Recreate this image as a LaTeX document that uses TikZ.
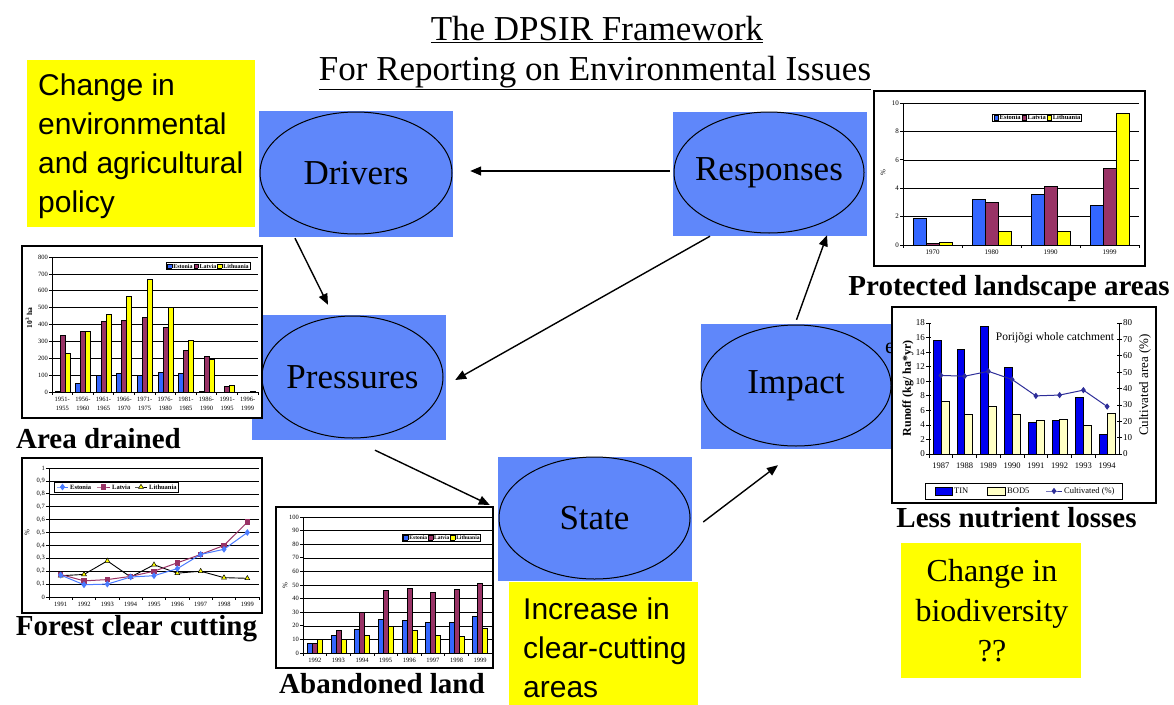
\documentclass[tikz,border=0pt]{standalone}
\usepackage{fontspec}
\setmainfont{Liberation Serif}
\setsansfont{Liberation Sans}
\usepackage{tikz}
\usetikzlibrary{arrows.meta, positioning, shapes.geometric, plotmarks}
\definecolor{dpsirblue}{HTML}{5F87FA}
\definecolor{notey}{HTML}{FFFF00}
\definecolor{estblue}{HTML}{3366FF}
\definecolor{latred}{HTML}{993366}
\definecolor{lityel}{HTML}{FFFF00}
\definecolor{estline}{HTML}{4A7BFF}
\definecolor{tinblue}{HTML}{0000F0}
\definecolor{bodyel}{HTML}{FFFFC4}
\definecolor{cultnavy}{HTML}{2E2E99}

\newcommand{\legsq}[1]{{\setlength{\fboxsep}{0pt}\setlength{\fboxrule}{0.4pt}\fcolorbox{black}{#1}{\rule{0pt}{4pt}\hspace{4pt}}}\hspace{1.2pt}}

\begin{document}
\begin{tikzpicture}[x=1pt, y=-1pt,
    panel/.style={rectangle, fill=dpsirblue, inner sep=0pt},
    stage/.style={ellipse, draw, line width=1pt, inner sep=0pt, font=\fontsize{35}{40}\selectfont},
    flow/.style={-{Triangle[length=11pt, width=9pt]}, line width=1.4pt},
    notebox/.style={rectangle, fill=notey, inner sep=0pt},
    notetext/.style={font=\sffamily\fontsize{30}{39}\selectfont, align=left, inner sep=0pt},
    titletext/.style={font=\fontsize{35}{40}\selectfont, anchor=base, inner sep=0pt},
    chartframe/.style={rectangle, draw, fill=white, line width=1.3pt, inner sep=0pt},
    charttitle/.style={font=\bfseries\fontsize{29}{34}\selectfont, anchor=base, inner sep=0pt},
    gridln/.style={line width=0.6pt},
    axisln/.style={line width=0.7pt},
    tick/.style={font=\fontsize{#1}{#1}\selectfont, inner sep=1pt},
    tick/.default=7,
    legbox/.style={draw, fill=white, line width=0.5pt, inner sep=1.2pt, font=\bfseries\fontsize{#1}{#1}\selectfont},
    legtext/.style={font=\bfseries\fontsize{6.5}{7}\selectfont, inner sep=0pt, anchor=west},
    estbar/.style={draw, line width=0.4pt, fill=estblue},
    latbar/.style={draw, line width=0.4pt, fill=latred},
    litbar/.style={draw, line width=0.4pt, fill=lityel},
    tinbar/.style={draw, line width=0.4pt, fill=tinblue},
    bodbar/.style={draw, line width=0.4pt, fill=bodyel},
    estln/.style={draw=estline, line width=1pt, mark=diamond*, mark size=2.6pt, mark options={fill=estline, draw=estline}},
    latln/.style={draw=latred, line width=1pt, mark=square*, mark size=2.2pt, mark options={fill=latred, draw=latred}},
    litln/.style={draw=black, line width=0.9pt, mark=triangle*, mark size=2.8pt, mark options={fill=lityel, draw=black, line width=0.5pt}},
    cultln/.style={draw=cultnavy, line width=1pt, mark=diamond*, mark size=2.4pt, mark options={fill=cultnavy, draw=cultnavy}},
]
\useasboundingbox (0,0) rectangle (1174,704);
\fill[white] (0,0) rectangle (1174,704);

% Title
\node[titletext] (title1) at (597,40) {\underline{The DPSIR Framework}};
\node[titletext] (title2) at (595,80) {\underline{For Reporting on Environmental Issues}};

% Yellow notes
\node[notebox, minimum width=228pt, minimum height=167pt] (policybox) at (141,143.5) {};
\node[notetext, anchor=west] (policy) at (38,146) {Change in\\environmental\\and agricultural\\policy};
\node[notebox, minimum width=189pt, minimum height=124pt] (cutbox) at (603.5,644) {};
\node[notetext, anchor=west] (cutting) at (523,648) {Increase in\\clear-cutting\\areas};
\node[notebox, minimum width=180pt, minimum height=135pt] (biobox) at (991,610.5) {};
\node[font=\fontsize{32}{40}\selectfont, align=center, inner sep=0pt] (biodiv) at (992,611) {Change in\\biodiversity\\??};

% DPSIR panels
\node[panel, minimum width=194pt, minimum height=126pt] (drvbox) at (356,174) {};
\node[stage, minimum width=192pt, minimum height=122pt] (drv) at (356,173) {\makebox[0pt]{Drivers}};
\node[panel, minimum width=194pt, minimum height=124pt] (respbox) at (770,174) {};
\node[stage, minimum width=190pt, minimum height=121pt] (resp) at (769,172.5) {\makebox[0pt]{Responses}};
\node[panel, minimum width=194pt, minimum height=125pt] (prsbox) at (349,377.5) {};
\node[stage, minimum width=181pt, minimum height=122pt] (prs) at (352.5,377) {\makebox[0pt]{Pressures}};
\node[panel, minimum width=191pt, minimum height=125pt] (impbox) at (796.5,386.5) {};
\node[stage, minimum width=190pt, minimum height=121pt] (imp) at (796,385.5) {\makebox[0pt]{Impact}};
\node[font=\fontsize{22}{24}\selectfont, anchor=base west, inner sep=0pt] (impe) at (885,353) {e};
\node[panel, minimum width=194pt, minimum height=124pt] (statebox) at (595,519) {};
\node[stage, minimum width=191pt, minimum height=122pt] (state) at (594.5,518) {\makebox[0pt]{State}};

% Arrows
\draw[flow] ([xshift=-3pt,yshift=3pt]respbox.west) -- ([xshift=17pt,yshift=3pt]drvbox.east);
\draw[flow] ([xshift=-61pt,yshift=-1pt]drvbox.south) -- ([xshift=-21pt,yshift=10pt]prsbox.north);
\draw[flow] ([xshift=-60pt]respbox.south) -- ([xshift=9pt,yshift=-2.5pt]prsbox.east);
\draw[flow] ([xshift=26pt,yshift=-10pt]prsbox.south) -- ([xshift=-8pt,yshift=14pt]statebox.west);
\draw[flow] ([xshift=11pt,yshift=-3pt]statebox.east) -- ([xshift=-18.5pt,yshift=-16pt]impbox.south);
\draw[flow] ([yshift=4pt]impbox.north) -- ([xshift=57pt,yshift=1pt]respbox.south);

% Protected landscape areas
\node[chartframe, minimum width=271pt, minimum height=175pt] (protframe) at (1009.5,178.5) {};
\begin{scope}[shift={(903,245)}, y=1pt]
  \foreach \v in {2,4,...,10}
    \draw[gridln] (0,\v*14.2) -- (236,\v*14.2);
  \draw[axisln] (0,142) -- (0,0) -- (236,0);
  \foreach \v in {0,2,...,10} {
    \draw[axisln] (-3,\v*14.2) -- (0,\v*14.2);
    \node[tick, anchor=east] (protyl\v) at (-3,\v*14.2) {\v};
  }
  \foreach \yr/\ve/\vl/\vt [count=\i from 0] in {1970/1.9/0.1/0.2, 1980/3.2/3.0/0.95, 1990/3.6/4.15/1.0, 1999/2.8/5.4/9.3} {
    \draw[axisln] (\i*59,0) -- (\i*59,-3);
    \filldraw[estbar] (\i*59+10.5,0) rectangle ++(13,\ve*14.2);
    \filldraw[latbar] (\i*59+23.5,0) rectangle ++(13,\vl*14.2);
    \filldraw[litbar] (\i*59+36.5,0) rectangle ++(13,\vt*14.2);
    \node[tick, anchor=north] (protxl\i) at (\i*59+29.5,-4) {\yr};
  }
  \draw[axisln] (236,0) -- (236,-3);
\end{scope}
\node[legbox=6.5] (protleg) at (1037,117.5) {\legsq{estblue}Estonia\,\legsq{latred}Latvia\,\legsq{lityel}Lithuania};
\node[tick, rotate=90] (protylab) at (883,173) {\%};
\node[charttitle] (prottitle) at (1009,295) {Protected landscape areas};

% Area drained
\node[chartframe, minimum width=240pt, minimum height=172pt] (drainframe) at (142,332) {};
\begin{scope}[shift={(52,392)}, y=1pt]
  \foreach \v in {100,200,...,800}
    \draw[gridln] (0,\v*0.16875) -- (206,\v*0.16875);
  \draw[axisln] (0,135) -- (0,0) -- (206,0);
  \foreach \v in {0,100,...,800} {
    \draw[axisln] (-3,\v*0.16875) -- (0,\v*0.16875);
    \node[tick=6.5, anchor=east] (drainyl\v) at (-3,\v*0.16875) {\v};
  }
  \foreach \pa/\pb/\ve/\vl/\vt [count=\i from 0] in {1951/1955/5/335/230, 1956/1960/50/360/360, 1961/1965/100/420/460, 1966/1970/110/425/565, 1971/1975/100/445/670, 1976/1980/120/385/500, 1981/1985/110/250/305, 1986/1990/5/210/195, 1991/1995/0/35/38, 1996/1999/0/0/2} {
    \draw[axisln] (\i*20.6,0) -- (\i*20.6,-3);
    \filldraw[estbar] (\i*20.6+2.8,0) rectangle ++(5,\ve*0.16875);
    \filldraw[latbar] (\i*20.6+7.8,0) rectangle ++(5,\vl*0.16875);
    \filldraw[litbar] (\i*20.6+12.8,0) rectangle ++(5,\vt*0.16875);
    \node[font=\fontsize{6.5}{9}\selectfont, inner sep=1pt, align=center, anchor=north] (drainxl\i) at (\i*20.6+10.3,-4) {\pa-\\\pb};
  }
  \draw[axisln] (206,0) -- (206,-3);
\end{scope}
\node[legbox=6] (drainleg) at (208,266) {\legsq{estblue}Estonia\,\legsq{latred}Latvia\,\legsq{lityel}Lithuania};
\node[rotate=90, font=\bfseries\fontsize{7.5}{9}\selectfont] (drainylab) at (29,318) {10\textsuperscript{3} ha};
\node[charttitle] (draintitle) at (98.5,448) {Area drained};

% Forest clear cutting
\node[chartframe, minimum width=240pt, minimum height=155pt] (forestframe) at (142,535.5) {};
\begin{scope}[shift={(49,597)}, x=23.333pt, y=129pt]
  \foreach \v in {1,...,10}
    \draw[gridln] (0,\v/10) -- (9,\v/10);
  \draw[axisln] (0,1) -- (0,0) -- (9,0);
  \foreach \v in {1,...,9} {
    \draw[axisln] (-0.13,\v/10) -- (0,\v/10);
    \node[tick=6.5, anchor=east] (forestyl\v) at (-0.13,\v/10) {0,\v};
  }
  \draw[axisln] (-0.13,0) -- (0,0) (-0.13,1) -- (0,1);
  \node[tick=6.5, anchor=east] (forestyl0) at (-0.13,0) {0};
  \node[tick=6.5, anchor=east] (forestylten) at (-0.13,1) {1};
  \foreach \yr [count=\i from 0] in {1991,...,1999} {
    \draw[axisln] (\i,0) -- (\i,-0.023);
    \node[tick=6.5, anchor=north] (forestxl\i) at (\i+0.5,-0.03) {\yr};
  }
  \draw[axisln] (9,0) -- (9,-0.023);
  \draw[litln] plot coordinates {(0.5,0.165) (1.5,0.175) (2.5,0.28) (3.5,0.155) (4.5,0.25) (5.5,0.185) (6.5,0.20) (7.5,0.15) (8.5,0.145)};
  \draw[latln] plot coordinates {(0.5,0.175) (1.5,0.125) (2.5,0.135) (3.5,0.16) (4.5,0.20) (5.5,0.265) (6.5,0.33) (7.5,0.40) (8.5,0.58)};
  \draw[estln] plot coordinates {(0.5,0.17) (1.5,0.095) (2.5,0.10) (3.5,0.155) (4.5,0.165) (5.5,0.22) (6.5,0.33) (7.5,0.37) (8.5,0.50)};
\end{scope}
\node[draw, fill=white, line width=0.5pt, minimum width=124pt, minimum height=10pt, inner sep=0pt] (forestleg) at (116,487) {};
\draw[estln, mark indices={2}] plot coordinates {(57,487) (62.5,487) (68,487)};
\node[legtext] (forestlegest) at (70,487) {Estonia};
\draw[latln, mark indices={2}] plot coordinates {(97,487) (103.5,487) (110,487)};
\node[legtext] (forestleglat) at (112,487) {Latvia};
\draw[litln, mark indices={2}] plot coordinates {(135,487) (141,487) (147,487)};
\node[legtext] (forestleglit) at (149,487) {Lithuania};
\node[tick, rotate=90] (forestylab) at (27,533) {\%};
\node[charttitle] (foresttitle) at (136.5,635) {Forest clear cutting};

% Abandoned land
\node[chartframe, minimum width=217pt, minimum height=161pt] (abandframe) at (384.5,587.5) {};
\begin{scope}[shift={(303,653)}, y=1pt]
  \foreach \v in {10,20,...,100}
    \draw[gridln] (0,\v*1.36) -- (189,\v*1.36);
  \draw[axisln] (0,136) -- (0,0) -- (189,0);
  \foreach \v in {0,10,...,100} {
    \draw[axisln] (-3,\v*1.36) -- (0,\v*1.36);
    \node[tick=6.5, anchor=east] (abandyl\v) at (-3,\v*1.36) {\v};
  }
  \foreach \yr/\ve/\vl/\vt [count=\i from 0] in {1992/7/7.5/10.5, 1993/13/17/10, 1994/17.5/30/13, 1995/25/46.5/20, 1996/24/48/16.5, 1997/22.5/44.5/13, 1998/23/47/12.5, 1999/27/51/18} {
    \draw[axisln] (\i*23.625,0) -- (\i*23.625,-3);
    \filldraw[estbar] (\i*23.625+4.3,0) rectangle ++(5,\ve*1.36);
    \filldraw[latbar] (\i*23.625+9.3,0) rectangle ++(5,\vl*1.36);
    \filldraw[litbar] (\i*23.625+14.3,0) rectangle ++(5,\vt*1.36);
    \node[tick=6.5, anchor=north] (abandxl\i) at (\i*23.625+11.8,-4) {\yr};
  }
  \draw[axisln] (189,0) -- (189,-3);
\end{scope}
\node[legbox=5.5] (abandleg) at (441.5,537.5) {\legsq{estblue}Estonia\,\legsq{latred}Latvia\,\legsq{lityel}Lithuania};
\node[tick, rotate=90] (abandylab) at (285,586) {\%};
\node[charttitle] (abandtitle) at (382,693) {Abandoned land};

% Less nutrient losses
\node[chartframe, minimum width=264pt, minimum height=196pt] (nutrframe) at (1024,405) {};
\begin{scope}[shift={(929,454)}, y=1pt]
  \draw[axisln] (0,131) -- (0,0) -- (190,0) -- (190,131);
  \foreach \v in {0,2,...,18} {
    \draw[axisln] (-3,\v*7.28) -- (2,\v*7.28);
    \node[tick=9, anchor=east] (nutryl\v) at (-3,\v*7.28) {\v};
  }
  \foreach \v in {0,10,...,80} {
    \draw[axisln] (188,\v*1.6375) -- (193,\v*1.6375);
    \node[tick=9, anchor=west] (nutryr\v) at (193,\v*1.6375) {\v};
  }
  \foreach \yr/\vn/\vb [count=\i from 0] in {1987/15.7/7.3, 1988/14.4/5.4, 1989/17.6/6.6, 1990/11.9/5.5, 1991/4.4/4.6, 1992/4.7/4.8, 1993/7.8/3.9, 1994/2.7/5.6} {
    \draw[axisln] (\i*23.75,0) -- (\i*23.75,-4);
    \filldraw[tinbar] (\i*23.75+4,0) rectangle ++(7.9,\vn*7.28);
    \filldraw[bodbar] (\i*23.75+11.9,0) rectangle ++(7.9,\vb*7.28);
    \node[tick=8.5, anchor=north] (nutrxl\i) at (\i*23.75+11.875,-8) {\yr};
  }
  \begin{scope}[x=23.75pt, y=1.6375pt]
    \draw[cultln] plot coordinates {(0.5,48) (1.5,47.5) (2.5,50.5) (3.5,45.5) (4.5,35.5) (5.5,36) (6.5,39) (7.5,29)};
  \end{scope}
\end{scope}
\node[font=\fontsize{11.5}{12}\selectfont, inner sep=0pt] (nutrnote) at (1055,338) {Porijõgi whole catchment};
\node[rotate=90, font=\bfseries\fontsize{12}{14}\selectfont] (nutrylab) at (908,388) {Runoff (kg/ ha*yr)};
\node[rotate=90, font=\fontsize{13}{15}\selectfont] (nutryrlab) at (1145,385) {Cultivated area (\%)};
\node[draw, fill=white, line width=0.6pt, minimum width=197pt, minimum height=16pt, inner sep=0pt] (nutrleg) at (1023.5,491) {};
\filldraw[tinbar] (935,487) rectangle (952,495);
\node[font=\fontsize{8.5}{9}\selectfont, inner sep=0pt, anchor=west] (nutrlegtin) at (954,491) {TIN};
\filldraw[bodbar] (987,487) rectangle (1005,495);
\node[font=\fontsize{8.5}{9}\selectfont, inner sep=0pt, anchor=west] (nutrlegbod) at (1007,491) {BOD5};
\draw[cultln, mark indices={2}] plot coordinates {(1046,491) (1054,491) (1062,491)};
\node[font=\fontsize{8.5}{9}\selectfont, inner sep=0pt, anchor=west] (nutrlegcult) at (1064,491) {Cultivated (\%)};
\node[charttitle] (nutrtitle) at (1016.5,527) {Less nutrient losses};

\end{tikzpicture}
\end{document}
